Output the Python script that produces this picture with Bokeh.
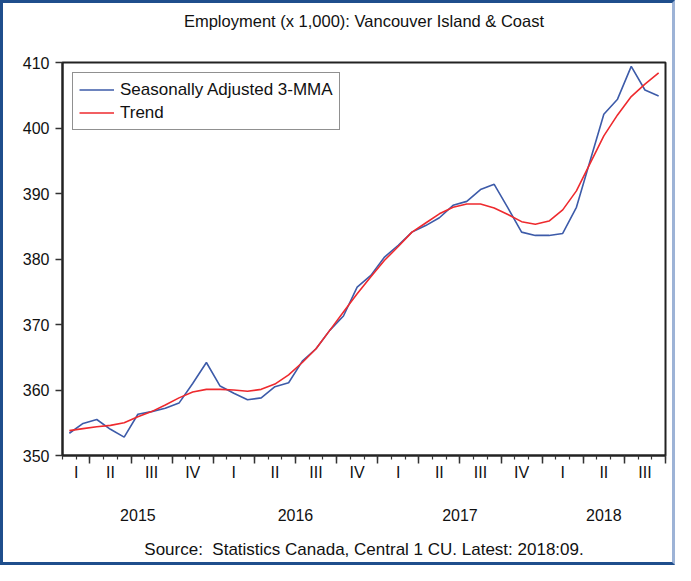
import pandas as pd
from bokeh.plotting import figure
from bokeh.models import FixedTicker, Range1d, Legend, LegendItem, LinearAxis
from bokeh.embed import file_html
from bokeh.resources import INLINE

# ---- data ----
months = pd.period_range("2015-02", "2018-09", freq="M")
sa_3mma = [353.4, 354.9, 355.5, 354.0, 352.8, 356.3, 356.7, 357.2, 358.0, 361.0,
           364.2, 360.6, 359.5, 358.5, 358.8, 360.5, 361.1, 364.4, 366.3, 369.1,
           371.3, 375.7, 377.5, 380.3, 382.1, 384.1, 385.1, 386.3, 388.2, 388.8,
           390.6, 391.4, 387.8, 384.1, 383.6, 383.6, 383.9, 387.9, 395.0, 402.1,
           404.4, 409.4, 405.8, 404.9]
trend = [353.8, 354.1, 354.4, 354.6, 355.0, 355.9, 356.7, 357.7, 358.8, 359.7,
         360.1, 360.1, 360.0, 359.8, 360.1, 360.9, 362.3, 364.2, 366.3, 369.1,
         371.9, 374.7, 377.3, 379.8, 381.9, 384.1, 385.5, 386.9, 387.9, 388.4,
         388.4, 387.8, 386.8, 385.7, 385.3, 385.8, 387.5, 390.4, 394.6, 398.8,
         402.0, 404.8, 406.7, 408.4]
y_ticks = [350, 360, 370, 380, 390, 400, 410]
quarter_names = ["I", "II", "III", "IV"]
series_names = ["Seasonally Adjusted 3-MMA", "Trend"]
title_text = "Employment (x 1,000): Vancouver Island & Coast"
source_text = "Source:\u00a0 Statistics Canada, Central 1 CU. Latest: 2018:09."

FONT = "Liberation Sans"
TXT = "#111111"
x = list(range(len(months)))

p = figure(width=675, height=565, x_range=Range1d(-0.5, len(months) - 0.5),
           y_range=Range1d(350, 410), output_backend="svg", toolbar_location=None,
           min_border_left=59, min_border_right=13, min_border_top=59, min_border_bottom=113)
p.title.text = ""
p.title.visible = False
p.grid.visible = False
p.outline_line_color = "#222222"
p.outline_line_width = 2
p.background_fill_color = "white"
p.border_fill_color = "white"
p.styles = {"border-left": "3px solid #1F4E8C", "border-top": "3px solid #1F4E8C",
            "border-bottom": "3px solid #1F4E8C", "border-right": "3px solid #9DB3D6"}

# y axis
p.yaxis.ticker = FixedTicker(ticks=y_ticks)
p.yaxis.axis_line_color = "#222222"
p.yaxis.axis_line_width = 2
p.yaxis.major_tick_out = 7
p.yaxis.major_tick_in = 0
p.yaxis.major_tick_line_color = "#333333"
p.yaxis.major_tick_line_width = 1.5
p.yaxis.minor_tick_line_color = None
p.yaxis.major_label_text_font = FONT
p.yaxis.major_label_text_font_size = "16px"
p.yaxis.major_label_text_color = TXT
p.yaxis.major_label_standoff = 6

# x axis: month boundary ticks, quarter boundaries major
bounds = [i - 0.5 for i in range(len(months) + 1)]
major = [b for k, b in enumerate(bounds) if (months[0] + k).month in (1, 4, 7, 10)]
xa = p.xaxis[0]
xa.ticker = FixedTicker(ticks=major, minor_ticks=bounds)
xa.axis_line_color = "#222222"
xa.axis_line_width = 2
xa.major_tick_out = 8
xa.major_tick_in = 0
xa.minor_tick_out = 4
xa.minor_tick_in = 0
xa.major_tick_line_color = "#333333"
xa.minor_tick_line_color = "#333333"
xa.major_tick_line_width = 1.5
xa.minor_tick_line_width = 1.2
xa.major_label_text_font_size = "0px"
xa.major_label_text_alpha = 0
xa.major_label_standoff = 0

# quarter and year label axes
groups_q = {}
groups_y = {}
for i, m in enumerate(months):
    groups_q.setdefault((m.year, m.quarter), []).append(i)
    groups_y.setdefault(m.year, []).append(i)
q_pos = [sum(v) / len(v) for v in groups_q.values()]
q_lab = [quarter_names[q - 1] for (yr, q) in groups_q.keys()]
y_pos = [sum(v) / len(v) for v in groups_y.values()]
y_lab = [str(yr) for yr in groups_y.keys()]


def label_axis(ticks, labels, standoff, side="below", axis_label=None, label_standoff=0,
               label_size="16px"):
    ax = LinearAxis(ticker=FixedTicker(ticks=ticks),
                    major_label_overrides={t: l for t, l in zip(ticks, labels)},
                    axis_line_color=None, major_tick_line_color=None,
                    minor_tick_line_color=None, major_tick_out=0, major_tick_in=0,
                    minor_tick_out=0, minor_tick_in=0,
                    major_label_standoff=standoff, major_label_text_font=FONT,
                    major_label_text_font_size="16px", major_label_text_color=TXT)
    if axis_label is not None:
        ax.axis_label = axis_label
        ax.axis_label_standoff = label_standoff
        ax.axis_label_text_font = FONT
        ax.axis_label_text_font_size = label_size
        ax.axis_label_text_font_style = "normal"
        ax.axis_label_text_color = TXT
    p.add_layout(ax, side)
    return ax


label_axis(q_pos, q_lab, 0)
label_axis(y_pos, y_lab, 25, axis_label=source_text, label_standoff=16, label_size="17px")

# title drawn as the label of an empty top axis
top = label_axis([], [], 0, side="above", axis_label=title_text, label_standoff=33,
                 label_size="16.5px")
top.major_label_text_font_size = "0px"

r1 = p.line(x, sa_3mma, line_color="#3D5BA9", line_width=1.6)
r2 = p.line(x, trend, line_color="#EE2A2E", line_width=1.6)

legend = Legend(items=[LegendItem(label=series_names[0], renderers=[r1]),
                       LegendItem(label=series_names[1], renderers=[r2])],
                location="top_left", margin=10, padding=6, spacing=2,
                label_height=21, glyph_height=21, glyph_width=35, label_standoff=6,
                label_text_font=FONT, label_text_font_size="17px", label_text_color=TXT,
                border_line_color="#222222", border_line_width=1,
                background_fill_alpha=1)
p.add_layout(legend)

open("out.html", "w").write(file_html(p, INLINE))
